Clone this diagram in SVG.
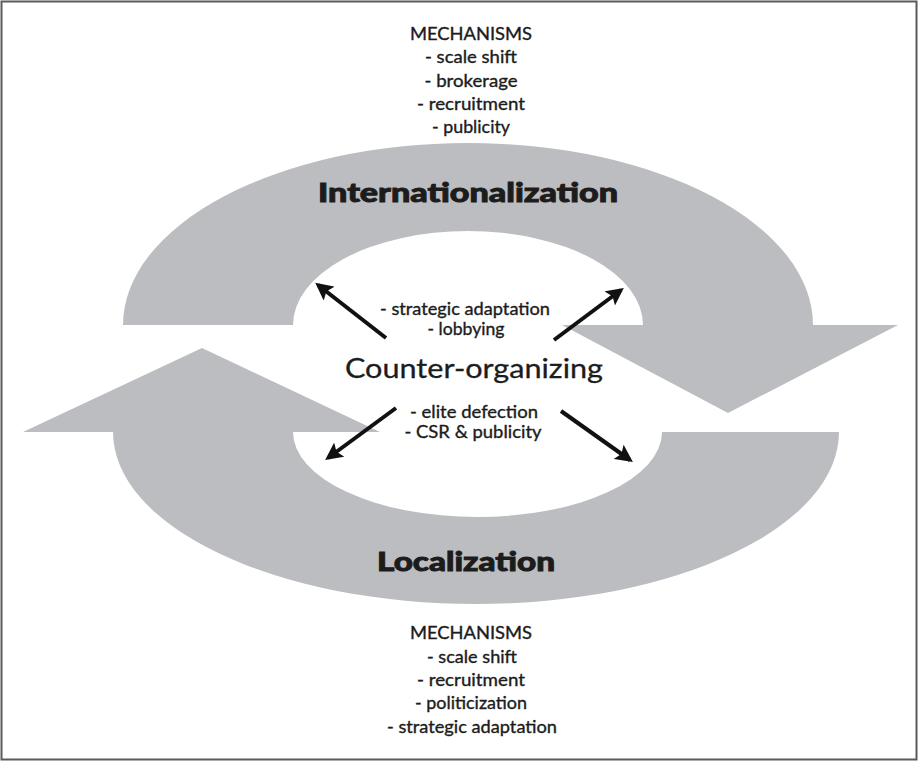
<svg xmlns="http://www.w3.org/2000/svg" width="919" height="762" viewBox="0 0 919 762">
  <defs>
    <style>
      .band { fill: #bcbdc0; stroke: none; }
      .txt { font-family: "Lato", "Open Sans", "Liberation Sans", sans-serif; fill: #1c1c1c; text-anchor: middle; stroke: #1c1c1c; stroke-width: 0.35; }
      .list { font-size: 17px; }
      .mid { font-size: 17px; }
      .title { font-size: 26px; font-weight: 900; stroke-width: 0.9; }
      .core { font-size: 27px; stroke-width: 0.3; }
      .link { stroke: #111; stroke-width: 4; fill: none; marker-end: url(#head); }
    </style>
    <marker id="head" viewBox="0 0 10 10" refX="8" refY="5" markerWidth="4.4" markerHeight="4.4" orient="auto" markerUnits="strokeWidth">
      <path d="M0,0 L10,5 L0,10 L2,5 Z" fill="#111"/>
    </marker>
  </defs>

  <rect x="1.5" y="1.5" width="915" height="758" fill="#fff" stroke="#5a5a5e" stroke-width="2"/>

  <!-- upper cycle band: left to right, arrowhead pointing down -->
  <g id="internationalization">
    <path class="band" d="M123 325 A345 182 0 0 1 813 325 L898 325 L728 413 L562 325 L643 325 A175 94 0 0 0 293 325 Z"/>
    <text class="txt title" x="468" y="202" textLength="300" lengthAdjust="spacingAndGlyphs">Internationalization</text>
  </g>

  <!-- lower cycle band: right to left, arrowhead pointing up -->
  <g id="localization">
    <path class="band" d="M839 432 A363 172 0 0 1 113 432 L23 432 L202 348 L380 432 L293 432 A184.5 85 0 0 0 662 432 Z"/>
    <text class="txt title" x="466" y="571" textLength="178" lengthAdjust="spacingAndGlyphs">Localization</text>
  </g>

  <g id="mechanisms-top">
    <text class="txt list" x="471" y="40" textLength="122" lengthAdjust="spacingAndGlyphs">MECHANISMS</text>
    <text class="txt list" x="471" y="63" textLength="92" lengthAdjust="spacingAndGlyphs">- scale shift</text>
    <text class="txt list" x="471" y="87" textLength="93" lengthAdjust="spacingAndGlyphs">- brokerage</text>
    <text class="txt list" x="471" y="110" textLength="108" lengthAdjust="spacingAndGlyphs">- recruitment</text>
    <text class="txt list" x="471" y="133" textLength="78" lengthAdjust="spacingAndGlyphs">- publicity</text>
  </g>

  <g id="counter-organizing">
    <text class="txt mid" x="465" y="315" textLength="170" lengthAdjust="spacingAndGlyphs">- strategic adaptation</text>
    <text class="txt mid" x="466" y="335" textLength="77" lengthAdjust="spacingAndGlyphs">- lobbying</text>
    <text class="txt core" x="474" y="378" textLength="258" lengthAdjust="spacingAndGlyphs">Counter-organizing</text>
    <text class="txt mid" x="474" y="418" textLength="128" lengthAdjust="spacingAndGlyphs">- elite defection</text>
    <text class="txt mid" x="473" y="438" textLength="137" lengthAdjust="spacingAndGlyphs">- CSR &amp; publicity</text>
  </g>

  <g id="mechanisms-bottom">
    <text class="txt list" x="471" y="639" textLength="122" lengthAdjust="spacingAndGlyphs">MECHANISMS</text>
    <text class="txt list" x="472" y="663" textLength="90" lengthAdjust="spacingAndGlyphs">- scale shift</text>
    <text class="txt list" x="471" y="686" textLength="108" lengthAdjust="spacingAndGlyphs">- recruitment</text>
    <text class="txt list" x="471" y="709" textLength="112" lengthAdjust="spacingAndGlyphs">- politicization</text>
    <text class="txt list" x="472" y="733" textLength="170" lengthAdjust="spacingAndGlyphs">- strategic adaptation</text>
  </g>

  <g id="connectors">
    <line class="link" x1="386" y1="338" x2="318" y2="285"/>
    <line class="link" x1="554" y1="340" x2="621" y2="290"/>
    <line class="link" x1="396" y1="408" x2="328" y2="458"/>
    <line class="link" x1="561" y1="411" x2="630" y2="460"/>
  </g>
</svg>
